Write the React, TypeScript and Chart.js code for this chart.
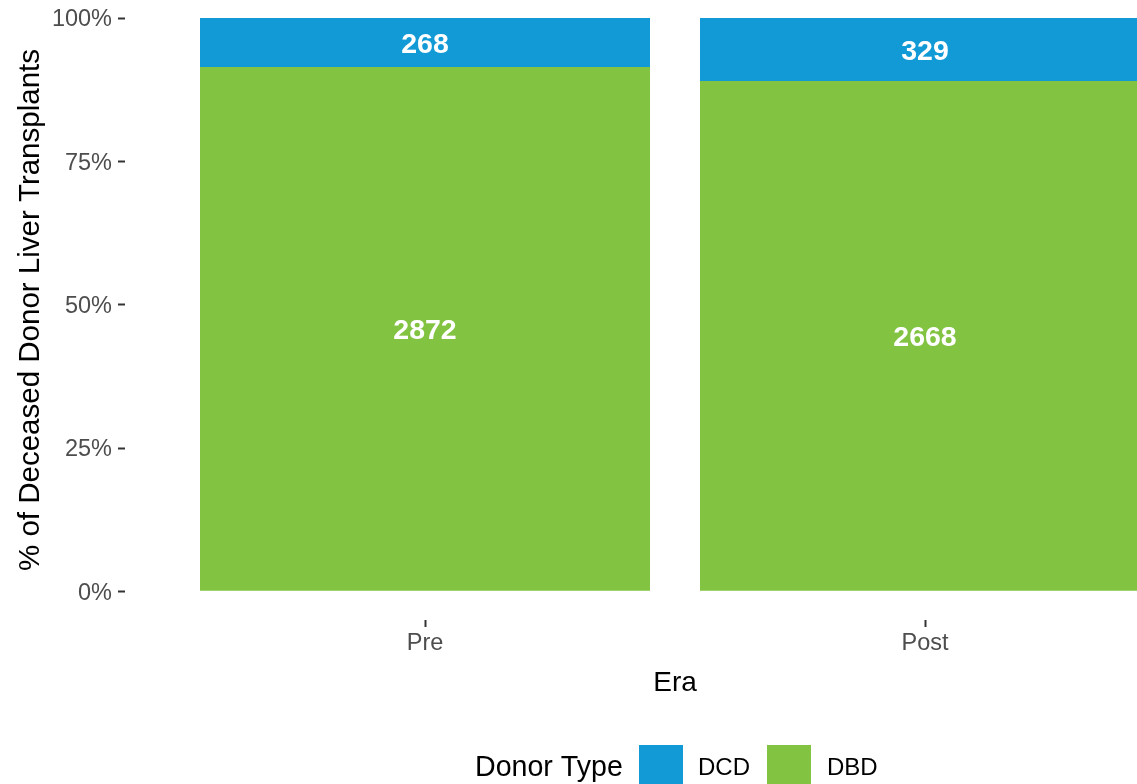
import React, { useEffect, useRef } from "react";
import { Chart, registerables } from "chart.js";

Chart.register(...registerables);

const eras = ["Pre", "Post"];
const eraPositions = [1, 2];
const donorTypes = ["DCD", "DBD"];
const dcdCounts = [268, 329];
const dbdCounts = [2872, 2668];
const seriesColors = ["#119AD6", "#82C341"];
const yTickValues = [0, 25, 50, 75, 100];

const FONT = "'Liberation Sans', Arial, Helvetica, sans-serif";

const totals = eras.map((_, i) => dcdCounts[i] + dbdCounts[i]);
const countsBySeries = [dcdCounts, dbdCounts];

const BAR_LABEL_SIZE = 28.5;

const labelPlugin = {
  id: "customDecor",
  afterDatasetsDraw(chart: any) {
    const ctx = chart.ctx;
    ctx.save();
    ctx.font = `bold ${BAR_LABEL_SIZE}px ${FONT}`;
    ctx.fillStyle = "#FFFFFF";
    ctx.textAlign = "center";
    ctx.textBaseline = "alphabetic";
    chart.data.datasets.forEach((ds: any, di: number) => {
      const meta = chart.getDatasetMeta(di);
      meta.data.forEach((bar: any, i: number) => {
        const cy = (bar.y + bar.base) / 2;
        ctx.fillText(String(ds.counts[i]), bar.x, cy + 0.358 * BAR_LABEL_SIZE);
      });
    });
    ctx.restore();
  },
  afterDraw(chart: any) {
    const ctx = chart.ctx;
    const area = chart.chartArea;
    ctx.save();
    ctx.fillStyle = "#000000";
    ctx.font = `28px ${FONT}`;
    ctx.textAlign = "center";
    ctx.textBaseline = "alphabetic";
    ctx.fillText("Era", (area.left + area.right) / 2, 691);
    ctx.save();
    ctx.translate(39, 310);
    ctx.rotate(-Math.PI / 2);
    ctx.font = `29.5px ${FONT}`;
    ctx.fillText("% of Deceased Donor Liver Transplants", 0, 0);
    ctx.restore();
    ctx.textAlign = "left";
    ctx.font = `28.6px ${FONT}`;
    ctx.fillText("Donor Type", 475, 776);
    const keyX = [639, 767];
    const labelX = [698, 827];
    ctx.font = `24px ${FONT}`;
    donorTypes.forEach((name, i) => {
      ctx.fillStyle = seriesColors[i];
      ctx.fillRect(keyX[i], 745, 44, 44);
      ctx.fillStyle = "#000000";
      ctx.fillText(name, labelX[i], 775);
    });
    ctx.restore();
  },
};

export default function App() {
  const canvasRef = useRef<HTMLCanvasElement | null>(null);

  useEffect(() => {
    if (!canvasRef.current) return;
    const datasets = donorTypes.map((name, si) => ({
      label: name,
      counts: countsBySeries[si],
      data: eraPositions.map((x, i) => ({
        x,
        y: (countsBySeries[si][i] / totals[i]) * 100,
      })),
      backgroundColor: seriesColors[si],
      borderWidth: 0,
      categoryPercentage: 1,
      barPercentage: 0.9,
    }));
    // DBD at the bottom of the stack, DCD on top
    const ordered = [datasets[1], datasets[0]];
    const chart = new Chart(canvasRef.current, {
      type: "bar",
      data: { datasets: ordered as any },
      options: {
        animation: false,
        responsive: false,
        maintainAspectRatio: false,
        layout: { padding: { left: 0, top: 18, right: 15, bottom: 0 } },
        plugins: {
          legend: { display: false },
          tooltip: { enabled: false },
          title: { display: false },
        },
        scales: {
          x: {
            type: "linear",
            stacked: true,
            min: 0.4,
            max: 2.6,
            offset: false,
            afterBuildTicks: (scale: any) => {
              scale.ticks = eraPositions.map((v) => ({ value: v }));
            },
            afterFit: (scale: any) => {
              scale.height = 200;
              scale.paddingLeft = 0;
              scale.paddingRight = 0;
            },
            grid: {
              display: true,
              offset: false,
              drawOnChartArea: false,
              drawTicks: true,
              tickLength: 7,
              tickWidth: 2,
              tickColor: "#333333",
            },
            border: { display: false },
            ticks: {
              autoSkip: false,
              maxRotation: 0,
              padding: 2,
              color: "#4D4D4D",
              font: { family: FONT, size: 23.5 },
              callback: (v: any) => {
                const idx = eraPositions.indexOf(Number(v));
                return idx >= 0 ? eras[idx] : "";
              },
            },
          },
          y: {
            type: "linear",
            stacked: true,
            min: -5,
            max: 100,
            afterBuildTicks: (scale: any) => {
              scale.ticks = yTickValues.map((v) => ({ value: v }));
            },
            afterFit: (scale: any) => {
              scale.width = 125;
              scale.paddingTop = 0;
              scale.paddingBottom = 0;
            },
            grid: {
              display: true,
              drawOnChartArea: false,
              drawTicks: true,
              tickLength: 7,
              tickWidth: 2,
              tickColor: "#333333",
            },
            border: { display: false },
            ticks: {
              padding: 6,
              labelOffset: 2,
              color: "#4D4D4D",
              font: { family: FONT, size: 23.5 },
              callback: (v: any) => `${v}%`,
            },
          },
        },
      },
      plugins: [labelPlugin],
    });
    return () => chart.destroy();
  }, []);

  return (
    <div
      style={{
        position: "fixed",
        left: 0,
        top: 0,
        width: 1137,
        height: 784,
        overflow: "hidden",
        background: "#FFFFFF",
      }}
    >
      <canvas ref={canvasRef} width={1240} height={820} style={{ display: "block" }} />
    </div>
  );
}
